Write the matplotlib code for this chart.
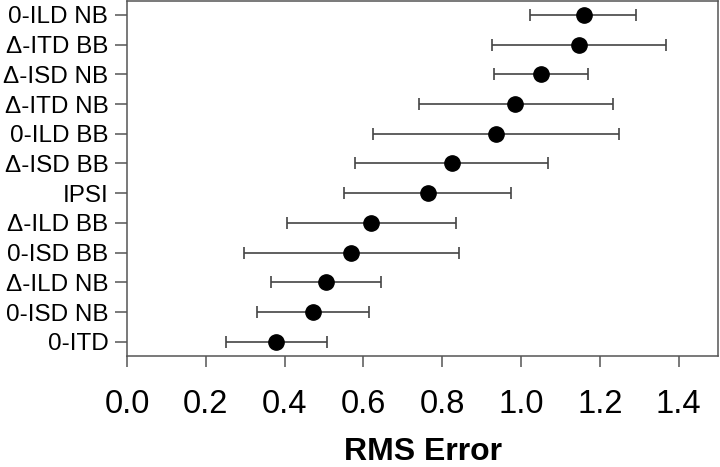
import matplotlib
matplotlib.use("Agg")
import matplotlib.pyplot as plt

plt.rcParams['font.family'] = ['Liberation Sans', 'DejaVu Sans']

labels = ["0-ITD", "0-ISD NB", "\u0394-ILD NB", "0-ISD BB", "\u0394-ILD BB", "IPSI",
          "\u0394-ISD BB", "0-ILD BB", "\u0394-ITD NB", "\u0394-ISD NB", "\u0394-ITD BB", "0-ILD NB"]
means = [0.379, 0.472, 0.505, 0.569, 0.620, 0.763, 0.825, 0.937, 0.986, 1.051, 1.148, 1.159]
lower = [0.251, 0.331, 0.366, 0.296, 0.406, 0.551, 0.579, 0.625, 0.740, 0.932, 0.927, 1.022]
upper = [0.508, 0.614, 0.645, 0.843, 0.834, 0.975, 1.069, 1.248, 1.233, 1.169, 1.369, 1.293]
xticks = [0.0, 0.2, 0.4, 0.6, 0.8, 1.0, 1.2, 1.4]

fig = plt.figure(figsize=(7.2, 4.67), dpi=100)
ax = fig.add_axes([127/720, 1 - 355.7/467, (718 - 127)/720, (355.7 - 1)/467])

y = list(range(1, len(labels) + 1))
xerr = [[m - l for m, l in zip(means, lower)], [u - m for m, u in zip(means, upper)]]
ax.errorbar(means, y, xerr=xerr, fmt='o', color='black', ecolor='#444444',
            elinewidth=1.2, capsize=4.5, capthick=1.2, markersize=11)

ax.set_xlim(0, 1.5)
ax.set_ylim(0.53, 12.47)
ax.set_yticks(y)
ax.set_yticklabels(labels, fontsize=17.5)
ax.set_xticks(xticks)
ax.set_xticklabels([f"{t:.1f}" for t in xticks], fontsize=23.5)
ax.tick_params(axis='x', length=8, width=1.1, color='#555555', pad=16)
ax.tick_params(axis='y', length=8.5, width=1.1, color='#555555', pad=5)
for s in ax.spines.values():
    s.set_color('#555555')
    s.set_linewidth(1.1)
ax.set_xlabel("RMS Error", fontsize=23, fontweight='bold', labelpad=12)

fig.savefig("out.png", dpi=100)
